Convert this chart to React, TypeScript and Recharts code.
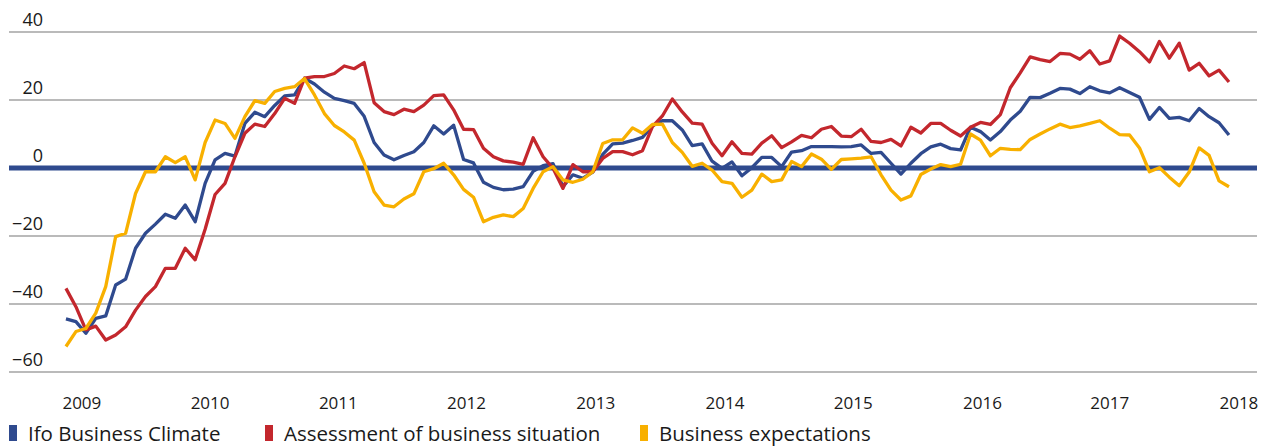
import React from 'react'
import {
    LineChart,
    Line,
    XAxis,
    YAxis,
    CartesianGrid
} from 'recharts'

// Ifo indicators, monthly balances
const climate = [
    -44.4, -45.2, -48.6, -44.2, -43.5, -34.4, -32.7, -23.6, -19.2, -16.5, -13.6, -14.8, -10.9, -15.8, -4.5, 2.4,
    4.3, 3.5, 13.1, 16.4, 15.1, 18.4, 21.2, 21.5, 26.4, 24.7, 22.3, 20.5, 19.8, 19.0, 15.2, 7.5,
    3.8, 2.4, 3.7, 4.8, 7.5, 12.4, 10.0, 12.6, 2.5, 1.5, -4.2, -5.7, -6.4, -6.2, -5.5, -1.0,
    0.7, 1.3, -5.5, -2.0, -3.0, -1.2, 4.0, 7.1, 7.3, 8.1, 9.0, 12.4, 13.9, 13.9, 11.2, 6.6,
    7.1, 2.0, -0.1, 1.8, -2.3, 0.1, 3.1, 3.1, 0.4, 4.7, 5.1, 6.3, 6.3, 6.3, 6.2, 6.3,
    6.8, 4.3, 4.6, 1.4, -1.8, 1.4, 4.2, 6.2, 7.0, 5.7, 5.3, 12.0, 10.7, 8.2, 10.7, 14.1,
    16.7, 20.8, 20.7, 22.0, 23.4, 23.2, 21.9, 23.9, 22.7, 22.1, 23.6, 22.2, 20.8, 14.3, 17.8, 14.6,
    14.9, 13.9, 17.5, 15.1, 13.3, 9.7
]

const situation = [
    -35.4, -40.8, -47.6, -46.5, -50.6, -49.1, -46.7, -41.8, -37.8, -34.9, -29.5, -29.5, -23.6, -27.0, -18.0, -7.8,
    -4.5, 3.3, 10.2, 12.9, 12.2, 16.0, 20.5, 19.0, 26.4, 26.9, 26.9, 27.8, 30.0, 29.2, 31.0, 19.2,
    16.6, 15.7, 17.3, 16.6, 18.5, 21.3, 21.5, 17.1, 11.4, 11.3, 5.8, 3.3, 2.1, 1.7, 1.1, 8.9,
    3.3, -0.1, -6.0, 1.0, -1.1, -1.1, 2.8, 4.8, 4.8, 3.9, 5.1, 12.2, 15.3, 20.3, 16.5, 13.2,
    12.9, 7.3, 3.6, 7.7, 4.3, 4.1, 7.3, 9.5, 6.0, 7.7, 9.6, 8.9, 11.4, 12.2, 9.4, 9.2,
    11.4, 7.8, 7.5, 8.4, 6.5, 12.0, 10.3, 13.1, 13.1, 11.1, 9.4, 12.0, 13.4, 12.8, 15.7, 23.6,
    28.0, 32.7, 31.9, 31.3, 33.7, 33.5, 32.0, 34.5, 30.6, 31.5, 38.8, 36.7, 34.2, 31.2, 37.2, 32.3,
    36.7, 28.8, 30.8, 27.1, 28.8, 25.3
]

const expectations = [
    -52.5, -48.1, -47.2, -42.7, -34.9, -20.2, -19.2, -7.5, -1.1, -1.1, 3.3, 1.6, 3.3, -3.5, 7.5, 14.1,
    13.1, 8.7, 15.1, 19.8, 19.0, 22.5, 23.4, 23.9, 26.3, 21.5, 16.0, 12.5, 10.6, 8.2, 1.4, -7.0,
    -10.9, -11.4, -9.1, -7.6, -1.1, -0.2, 1.4, -2.0, -6.3, -8.6, -15.8, -14.5, -13.8, -14.3, -11.9, -6.0,
    -1.1, 0.4, -3.5, -4.2, -3.3, -1.1, 7.2, 8.3, 8.3, 11.8, 10.2, 12.8, 12.9, 7.5, 4.6, 0.5,
    1.4, -0.6, -4.0, -4.5, -8.6, -6.5, -1.8, -4.0, -3.5, 1.9, 0.4, 4.1, 2.6, -0.4, 2.5, 2.7,
    2.9, 3.3, -2.0, -6.5, -9.4, -8.2, -1.9, -0.3, 1.0, 0.4, 1.1, 10.0, 8.2, 3.6, 5.8, 5.5,
    5.4, 8.4, 10.0, 11.5, 12.9, 11.9, 12.4, 13.1, 13.9, 11.7, 9.8, 9.7, 5.9, -1.1, 0.1, -2.7,
    -5.2, -1.2, 5.9, 3.7, -3.8, -5.5
]

// year labels and where they sit on the period axis
const years = ['2009', '2010', '2011', '2012', '2013', '2014', '2015', '2016', '2017', '2018']
const yearTicks = [1.6, 14.5, 27.4, 40.3, 53.3, 66.3, 79.2, 92.2, 105.0, 118.0]
const valueTicks = [-60, -40, -20, 0, 20, 40]

const BLUE = '#2f4a8e'
const RED = '#c3272d'
const YELLOW = '#f8b000'
const FONT = '"Open Sans", "Noto Sans", sans-serif'

const data = climate.map((v, i) => ({
    period: i,
    climate: v,
    situation: situation[i],
    expectations: expectations[i]
}))

const legendItems = [
    { label: 'Ifo Business Climate', color: BLUE, left: 1 },
    { label: 'Assessment of business situation', color: RED, left: 257 },
    { label: 'Business expectations', color: YELLOW, left: 632 }
]

function YearTick({ x, payload }: any) {
    const idx = yearTicks.indexOf(payload.value)
    return (
        <text x={x} y={394} textAnchor="middle" dominantBaseline="central"
            fontSize={17} fontFamily={FONT} fill="#1a1a1a">
            {years[idx]}
        </text>
    )
}

function ValueTick({ y, payload }: any) {
    const label = String(payload.value).replace('-', '\u2212')
    return (
        <text x={35} y={y - 13.5} textAnchor="end" dominantBaseline="central"
            fontSize={18} fontFamily={FONT} fill="#1a1a1a">
            {label}
        </text>
    )
}

export default function App() {
    return (
        <div style={{ position: 'relative', width: 1253, height: 438 }}>
            <LineChart width={1253} height={410} data={data}
                margin={{ top: 24, right: 4, bottom: 16, left: 0 }}>
                {/* gray grid, plus the heavy zero line underneath the series */}
                <CartesianGrid vertical={false} horizontalValues={[-60, -40, -20, 20, 40]}
                    stroke="#a3a3a3" strokeWidth={1.3} />
                <CartesianGrid vertical={false} horizontalValues={[0]}
                    stroke={BLUE} strokeWidth={5} />
                <XAxis
                    type="number"
                    dataKey="period"
                    domain={[-5.73, 119.82]}
                    ticks={yearTicks}
                    allowDataOverflow
                    axisLine={false}
                    tickLine={false}
                    height={30}
                    tick={(props: any) => <YearTick {...props} />}
                />
                <YAxis
                    type="number"
                    domain={[-60, 40]}
                    ticks={valueTicks}
                    width={1}
                    interval={0}
                    axisLine={false}
                    tickLine={false}
                    tick={(props: any) => <ValueTick {...props} />}
                />
                <Line dataKey="climate" stroke={BLUE} strokeWidth={3.3} dot={false}
                    isAnimationActive={false} strokeLinejoin="round" />
                <Line dataKey="situation" stroke={RED} strokeWidth={3.3} dot={false}
                    isAnimationActive={false} strokeLinejoin="round" />
                <Line dataKey="expectations" stroke={YELLOW} strokeWidth={3.3} dot={false}
                    isAnimationActive={false} strokeLinejoin="round" />
            </LineChart>

            {/* legend */}
            {legendItems.map(item => (
                <div key={item.label} style={{
                    position: 'absolute', left: item.left, top: 413,
                    display: 'flex', alignItems: 'center', height: 24,
                    fontFamily: FONT, fontSize: 20.5, color: '#1a1a1a', whiteSpace: 'nowrap'
                }}>
                    <span style={{ display: 'inline-block', width: 8, height: 16, background: item.color, marginRight: 11 }} />
                    {item.label}
                </div>
            ))}
        </div>
    )
}
